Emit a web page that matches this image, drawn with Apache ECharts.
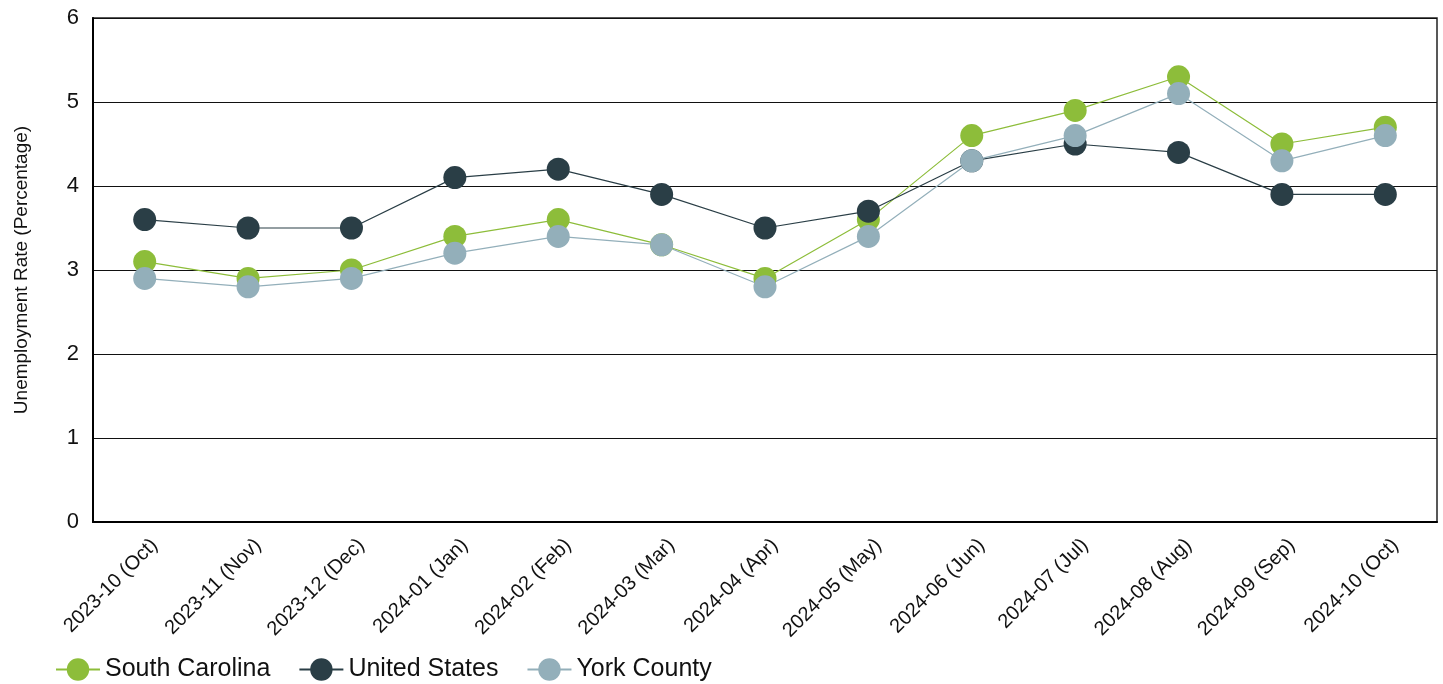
<!DOCTYPE html>
<html><head><meta charset="utf-8">
<script src="https://cdn.jsdelivr.net/npm/echarts@6/dist/echarts.min.js"></script>
<style>html,body{margin:0;padding:0;background:#fff}#c{width:1443px;height:684px}</style>
</head><body><div id="c"></div>
<script>
const categories = ["2023-10 (Oct)","2023-11 (Nov)","2023-12 (Dec)","2024-01 (Jan)","2024-02 (Feb)","2024-03 (Mar)","2024-04 (Apr)","2024-05 (May)","2024-06 (Jun)","2024-07 (Jul)","2024-08 (Aug)","2024-09 (Sep)","2024-10 (Oct)"];
const southCarolina = [3.1,2.9,3.0,3.4,3.6,3.3,2.9,3.6,4.6,4.9,5.3,4.5,4.7];
const unitedStates = [3.6,3.5,3.5,4.1,4.2,3.9,3.5,3.7,4.3,4.5,4.4,3.9,3.9];
const yorkCounty = [2.9,2.8,2.9,3.2,3.4,3.3,2.8,3.4,4.3,4.6,5.1,4.3,4.6];
const yTicks = [0,1,2,3,4,5,6];

const font = "Liberation Sans, Arial, sans-serif";
const chart = echarts.init(document.getElementById('c'));
function s(name, data, color){
  return {name, type:'line', data, symbol:'circle', symbolSize:23,
    itemStyle:{color}, lineStyle:{color, width:1.2}, emphasis:{disabled:true}};
}
chart.setOption({
  animation:false,
  grid:{left:93, right:6, top:18, bottom:162, show:true, borderColor:'#222', borderWidth:1.5},
  legend:{left:50, top:652, itemWidth:44, itemHeight:28, itemGap:28,
    textStyle:{fontFamily:font, fontSize:25, color:'#111'},
    data:['South Carolina','United States','York County']},
  xAxis:{type:'category', data:categories, boundaryGap:true,
    axisLine:{lineStyle:{color:'#000', width:2}}, axisTick:{show:false},
    axisLabel:{rotate:45, fontFamily:font, fontSize:20, color:'#111', margin:30, padding:[0,-14,0,0], interval:0}},
  yAxis:{type:'value', min:yTicks[0], max:yTicks[yTicks.length-1], interval:1,
    name:'Unemployment Rate (Percentage)', nameLocation:'middle', nameGap:62,
    nameTextStyle:{fontFamily:font, fontSize:19, color:'#111'},
    axisLine:{show:true, lineStyle:{color:'#000', width:2}}, axisTick:{show:false},
    axisLabel:{fontFamily:font, fontSize:22, color:'#111', margin:14},
    splitLine:{lineStyle:{color:'#111', width:1.2}}},
  series:[s('South Carolina', southCarolina, '#8dbd3a'), s('United States', unitedStates, '#2a3e46'), s('York County', yorkCounty, '#93afba')]
});
</script></body></html>
